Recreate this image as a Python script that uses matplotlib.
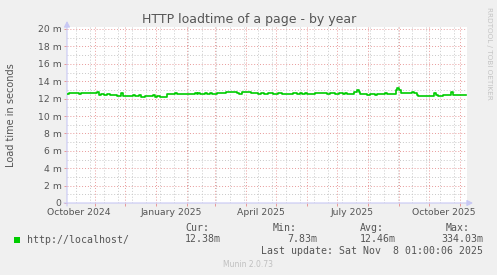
import matplotlib
matplotlib.use("Agg")
import matplotlib.pyplot as plt
import matplotlib.dates as mdates
import matplotlib.transforms as mtransforms
from matplotlib.patches import Rectangle
import numpy as np
import pandas as pd

# ---------------- data ----------------
title = "HTTP loadtime of a page - by year"
y_label = "Load time in seconds"
series_name = "http://localhost/"
start_time = "2024-10-04 01:00:06"
end_time = "2025-11-08 01:00:06"

days_since_start = [0, 2, 12, 14, 30, 32, 34, 37, 40, 43, 50, 54, 56, 66, 68, 72, 74, 78,
                    86, 88, 90, 93, 100, 108, 110, 128, 130, 131, 133, 138, 140, 143, 145,
                    150, 156, 159, 170, 172, 175, 184, 191, 194, 197, 201, 206, 211, 215,
                    226, 230, 233, 235, 238, 240, 248, 260, 263, 268, 272, 276, 278, 280,
                    287, 290, 292, 293, 300, 303, 308, 310, 318, 320, 329, 330, 332, 334,
                    345, 347, 350, 351, 367, 369, 371, 376, 381, 384, 386, 389, 392, 396, 399]
load_ms = [12.49, 12.61, 12.49, 12.61, 12.72, 12.41, 12.53, 12.45, 12.53, 12.38, 12.30, 12.61,
           12.30, 12.41, 12.30, 12.41, 12.22, 12.30, 12.41, 12.22, 12.30, 12.22, 12.53, 12.61,
           12.53, 12.61, 12.53, 12.61, 12.53, 12.61, 12.53, 12.61, 12.53, 12.61, 12.68, 12.72,
           12.61, 12.49, 12.72, 12.61, 12.53, 12.61, 12.53, 12.61, 12.53, 12.61, 12.53, 12.61,
           12.53, 12.61, 12.53, 12.61, 12.53, 12.61, 12.53, 12.61, 12.53, 12.61, 12.49, 12.61,
           12.49, 12.72, 13.02, 12.72, 12.49, 12.45, 12.53, 12.45, 12.53, 12.61, 12.53, 12.99,
           13.18, 12.99, 12.64, 12.72, 12.61, 12.41, 12.30, 12.61, 12.41, 12.30, 12.38, 12.45,
           12.72, 12.45, 12.38, 12.45, 12.38, 12.38]

y_ticks = [0, 2, 4, 6, 8, 10, 12, 14, 16, 18, 20]
y_tick_labels = ["0", "2 m", "4 m", "6 m", "8 m", "10 m", "12 m", "14 m", "16 m", "18 m", "20 m"]
x_labels = ["October 2024", "January 2025", "April 2025", "July 2025", "October 2025"]
x_label_dates = ["2024-10-16", "2025-01-16", "2025-04-16", "2025-07-16", "2025-10-16"]
minor_grid_start = "2024-10-13"

stat_names = ["Cur:", "Min:", "Avg:", "Max:"]
stat_values = ["12.38m", "7.83m", "12.46m", "334.03m"]
last_update = "Last update: Sat Nov  8 01:00:06 2025"
credit = "Munin 2.0.73"
side_text = "RRDTOOL / TOBI OETIKER"

# ---------------- styling ----------------
W, H = 497, 275
BG = "#f0f0f0"
TXT = "#555555"
LINE = "#00cc00"
MAJ = "#e89a9a"
MIN = "#c8c8c8"
AXC = "#c8c8f4"

plt.rcParams["font.family"] = ["DejaVu Sans"]

fig = plt.figure(figsize=(W / 100, H / 100), dpi=100, facecolor=BG)

def fx(x):
    return x / W

def fy(y):
    return 1 - y / H

px_per_unit = 8.7
ytop = 20 + 2 / px_per_unit
ax_left, ax_right = 67, 467
ax_bottom = 203
ax_top = ax_bottom - ytop * px_per_unit
ax = fig.add_axes([fx(ax_left), fy(ax_bottom), (ax_right - ax_left) / W,
                   (ax_bottom - ax_top) / H])
ax.set_facecolor("white")

t0 = pd.Timestamp(start_time)
t1 = pd.Timestamp(end_time)
dates = [t0 + pd.Timedelta(days=d) for d in days_since_start]

ax.set_xlim(t0, t1)
ax.set_ylim(0, ytop)

# grids
ax.xaxis.set_major_locator(mdates.MonthLocator())
minor_days = pd.date_range(minor_grid_start, t1, freq="14D")
ax.set_xticks(mdates.date2num(minor_days), minor=True)
ax.set_yticks(y_ticks)
ax.set_yticks([v + 1 for v in y_ticks[:-1]], minor=True)

dot = (0, (1, 2))
ax.grid(True, which="minor", color=MIN, linestyle=dot, linewidth=0.7, zorder=1)
ax.grid(True, which="major", color=MAJ, linestyle=dot, linewidth=0.7, zorder=2)
ax.set_axisbelow(True)

ax.set_xticklabels([])
ax.set_yticklabels(y_tick_labels)
ax.tick_params(axis="x", which="major", length=2, color=MAJ, width=0.72, labelbottom=False)
ax.tick_params(axis="x", which="minor", length=0)
ax.tick_params(axis="y", which="major", length=2, color=MAJ, width=0.72,
               labelsize=6.7, labelcolor=TXT, pad=2)
ax.tick_params(axis="y", which="minor", length=0)

for s in ax.spines.values():
    s.set_visible(False)

# data line
ax.plot(dates + [t1 - pd.Timedelta(days=1)], load_ms + [load_ms[-1]],
        drawstyle="steps-post", color=LINE, linewidth=1.2, zorder=5)

# axes lines with arrows
ax.annotate("", xy=(fx(473), fy(203)), xytext=(fx(64), fy(203)), xycoords="figure fraction",
            arrowprops=dict(arrowstyle="-|>,head_length=0.35,head_width=0.18", color=AXC, lw=0.8,
                            shrinkA=0, shrinkB=0))
ax.annotate("", xy=(fx(67), fy(21)), xytext=(fx(67), fy(206)), xycoords="figure fraction",
            arrowprops=dict(arrowstyle="-|>,head_length=0.35,head_width=0.18", color=AXC, lw=0.8,
                            shrinkA=0, shrinkB=0))

# x labels at mid-month
trans = mtransforms.blended_transform_factory(ax.transData, fig.transFigure)
for lab, d in zip(x_labels, x_label_dates):
    ax.text(mdates.date2num(pd.Timestamp(d)), fy(212.5), lab, transform=trans,
            ha="center", va="center", fontsize=6.7, color=TXT)

# title and labels
fig.text(fx(249), fy(19), title, ha="center", va="center", fontsize=9, color=TXT)
fig.text(fx(11), fy(115), y_label, rotation=90, ha="center", va="center",
         fontsize=7, color=TXT)
fig.text(fx(489), fy(53), side_text, rotation=270, ha="center", va="center",
         fontsize=5.2, color="#c4c4c4")

# legend
mono = "DejaVu Sans Mono"
fs = 7.1
fig.add_artist(Rectangle((fx(14), fy(243)), 6 / W, 6 / H, transform=fig.transFigure,
                         facecolor=LINE, edgecolor="none"))
fig.text(fx(27), fy(240), series_name, family=mono, fontsize=fs, color=TXT, va="center")
head_x = [185, 273, 360, 470]
head_ha = ["left", "left", "left", "right"]
for n, x, ha in zip(stat_names, head_x, head_ha):
    fig.text(fx(x), fy(228), n, family=mono, fontsize=fs, color=TXT, va="center", ha=ha)
val_x = [185, 317, 360, 483]
val_ha = ["left", "right", "left", "right"]
for v, x, ha in zip(stat_values, val_x, val_ha):
    fig.text(fx(x), fy(239.5), v, family=mono, fontsize=fs, color=TXT, va="center", ha=ha)
fig.text(fx(483), fy(250.5), last_update, family=mono, fontsize=fs, color=TXT,
         va="center", ha="right")
fig.text(fx(248), fy(264.5), credit, fontsize=5.5, color="#c0c0c0", ha="center", va="center")

fig.savefig("out.png", dpi=100, facecolor=BG)
